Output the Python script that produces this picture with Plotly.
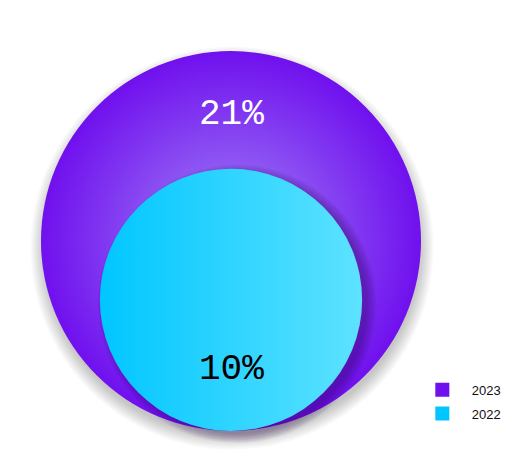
import math
import plotly.graph_objects as go

# ---- data ----
years = ["2023", "2022"]
values = [21, 10]
labels = ["21%", "10%"]
edge_colors = ["#7010EE", "#00C6FF"]
grad_colors = ["#A286F6", "#5EE2FF"]
grad_types = ["radial", "horizontal"]
label_colors = ["#FFFFFF", "#000000"]

# ---- layout constants (pixels) ----
W, H = 521, 461
CX = 223          # common centre line of the nested bubbles
BASE = 423        # common bottom of the nested bubbles
D_MAX = 380       # diameter of the largest bubble

# bubble area proportional to value
diams = [D_MAX * math.sqrt(v / max(values)) for v in values]
cys = [BASE - d / 2 for d in diams]

fig = go.Figure()

# soft drop shadow of the outer bubble
for k in range(10):
    fig.add_trace(go.Scatter(
        x=[CX + 1], y=[cys[0] + 7], mode="markers", showlegend=False, hoverinfo="skip",
        marker=dict(size=diams[0] - 4 + 3 * k, color="rgba(0,0,0,0.022)", opacity=1,
                    line=dict(width=0))))

# outer bubble
fig.add_trace(go.Scatter(
    x=[CX], y=[cys[0]], mode="markers", showlegend=False, hoverinfo="skip",
    marker=dict(size=diams[0], color=edge_colors[0], opacity=1,
                gradient=dict(type=grad_types[0], color=grad_colors[0]), line=dict(width=0))))

# shadow the inner bubble casts onto the outer one
for k in range(7):
    fig.add_trace(go.Scatter(
        x=[CX + 6], y=[cys[1] + 4], mode="markers", showlegend=False, hoverinfo="skip",
        marker=dict(size=diams[1] - 2 + 3 * k, color="rgba(30,0,70,0.055)", opacity=1,
                    line=dict(width=0))))

# inner bubble
fig.add_trace(go.Scatter(
    x=[CX], y=[cys[1]], mode="markers", showlegend=False, hoverinfo="skip",
    marker=dict(size=diams[1], color=edge_colors[1], opacity=1,
                gradient=dict(type=grad_types[1], color=grad_colors[1]), line=dict(width=0))))

# legend entries
for i, yr in enumerate(years):
    fig.add_trace(go.Scatter(
        x=[None], y=[None], mode="markers", name=yr, legendgroup=yr,
        marker=dict(symbol="square", size=14, color=edge_colors[i], line=dict(width=0))))

# value labels
top_outer = cys[0] - diams[0] / 2
fig.add_annotation(x=CX, y=top_outer + 63, text=labels[0], showarrow=False,
                   font=dict(family="Liberation Mono", size=36, color=label_colors[0]))
fig.add_annotation(x=CX, y=BASE - 62, text=labels[1], showarrow=False,
                   font=dict(family="Liberation Mono", size=36, color=label_colors[1]))

fig.update_layout(
    width=W, height=H, margin=dict(l=0, r=0, t=0, b=0),
    paper_bgcolor="white", plot_bgcolor="white",
    xaxis=dict(range=[0, W], visible=False, fixedrange=True),
    yaxis=dict(range=[H, 0], visible=False, fixedrange=True),
    showlegend=True,
    legend=dict(x=0.777, y=0.2045, xanchor="left", yanchor="top",
                font=dict(family="Liberation Sans", size=13, color="#111111"),
                itemwidth=49, tracegroupgap=4, bgcolor="rgba(0,0,0,0)"),
)

fig.write_html("out.html")
